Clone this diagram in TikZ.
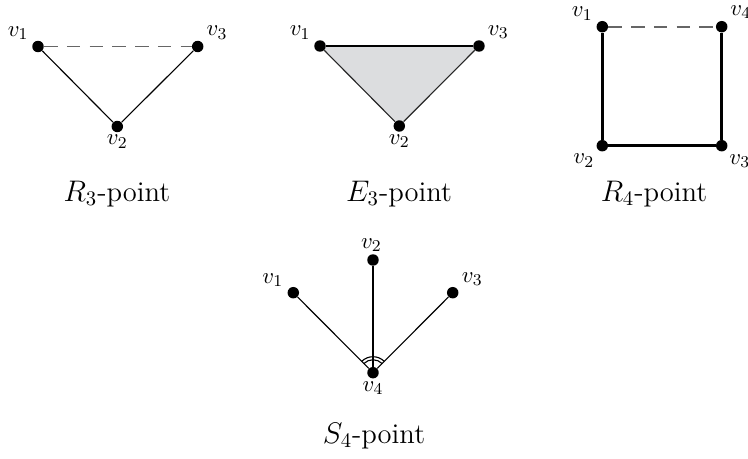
\documentclass[tikz,border=0pt]{standalone}
\usepackage{amsmath,amssymb}
\usepackage{tikz}
\usetikzlibrary{backgrounds}

\definecolor{facefill}{RGB}{220,221,223}

\begin{document}
\begin{tikzpicture}[
    x=0.017cm, y=-0.017cm,
    dot/.style={circle, fill=black, inner sep=0pt, minimum size=1.95mm},
    thin edge/.style={line width=0.55pt},
    thick edge/.style={line width=1.25pt},
    gap/.style={line width=0.85pt, black!60, dash pattern=on 6.5pt off 4.5pt},
    lbl/.style={anchor=center, label distance=8.6pt, font=\fontsize{11pt}{13pt}\selectfont},
    lblv/.style={lbl, label distance=4.4pt},
    caption/.style={font=\fontsize{13.8pt}{16pt}\selectfont}
]
\useasboundingbox (0,0) rectangle (748,458);

% R3-point
\node[dot, label={[lbl]146:$v_1$}] (ra) at (38,46.5) {};
\node[dot, label={[lblv]-90:$v_2$}] (rb) at (117.3,126.5) {};
\node[dot, label={[lbl]36:$v_3$}] (rc) at (197.7,46.5) {};
\draw[gap] (ra) -- (rc);
\draw[thin edge] (ra) -- (rb) -- (rc);
\node[caption] (rcap) at (117,194) {$R_3$-point};

% E3-point
\node[dot, label={[lbl]146:$v_1$}] (ea) at (320,46) {};
\node[dot, label={[lblv]-90:$v_2$}] (eb) at (399.3,126) {};
\node[dot, label={[lbl]36:$v_3$}] (ec) at (479,46) {};
\begin{scope}[on background layer]
  \fill[facefill] (ea.center) -- (eb.center) -- (ec.center) -- cycle;
\end{scope}
\draw[thick edge] (ea) -- (ec);
\draw[thin edge, black!85] (ea) -- (eb) -- (ec);
\node[caption] (ecap) at (399,194) {$E_3$-point};

% R4-point
\node[dot, label={[lbl]147:$v_1$}] (qa) at (602.3,26.7) {};
\node[dot, label={[lbl]-141:$v_2$}] (qb) at (602.3,145.7) {};
\node[dot, label={[lbl]-41:$v_3$}] (qc) at (721.7,145.7) {};
\node[dot, label={[lbl]37:$v_4$}] (qd) at (721.7,26.7) {};
\draw[gap] (qa) -- (qd);
\draw[thick edge] (qa) -- (qb) -- (qc) -- (qd);
\node[caption] (qcap) at (654,194) {$R_4$-point};

% S4-point
\node[dot, label={[lbl]149:$v_1$}] (sa) at (293.3,292.7) {};
\node[dot, label={[lblv]96:$v_2$}] (sb) at (373,260) {};
\node[dot, label={[lbl]35:$v_3$}] (sc) at (452.7,292.7) {};
\node[dot, label={[lblv]-90:$v_4$}] (sd) at (373,372.7) {};
\draw[thin edge] (sd) -- (sa);
\draw[thin edge] (sd) -- (sc);
\draw[thick edge] (sd) -- (sb);
\draw[thin edge] ([shift={(45:0.22cm)}]sd.center) arc[start angle=45, end angle=135, radius=0.22cm];
\draw[thin edge] ([shift={(45:0.272cm)}]sd.center) arc[start angle=45, end angle=135, radius=0.272cm];
\node[caption] (scap) at (374,436) {$S_4$-point};
\end{tikzpicture}
\end{document}
